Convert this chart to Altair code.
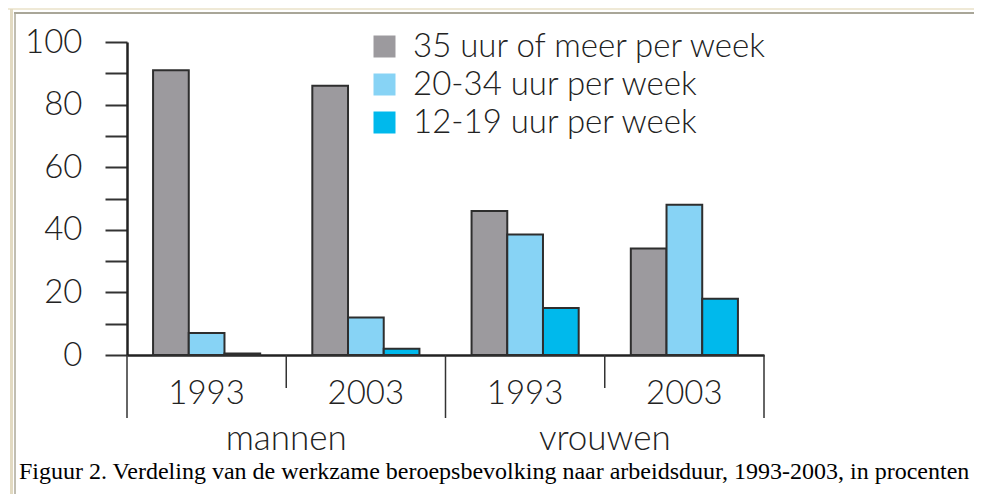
import altair as alt
import pandas as pd

groups = ["mannen 1993", "mannen 2003", "vrouwen 1993", "vrouwen 2003"]
categories = ["35 uur of meer per week", "20-34 uur per week", "12-19 uur per week"]
colors = ["#9c9a9e", "#87d3f5", "#00b9ec"]
v_35plus = [91, 86, 46, 34]
v_20_34 = [7, 12, 38.5, 48]
v_12_19 = [0.5, 2, 15, 18]
sexes = ["mannen", "vrouwen"]
caption = "Figuur 2. Verdeling van de werkzame beroepsbevolking naar arbeidsduur, 1993-2003, in procenten"

rows = []
for i, g in enumerate(groups):
    for c, vals in zip(categories, [v_35plus, v_20_34, v_12_19]):
        rows.append({"key": g, "cat": c, "value": vals[i]})
df = pd.DataFrame(rows)

FONT = "Lato"
INK = "#222222"

xsort = groups
xscale = alt.Scale(paddingInner=0, paddingOuter=0)
xaxis = alt.Axis(labelExpr="split(datum.label, ' ')[1]", ticks=False, tickSize=0,
                 labelFont=FONT, labelFontSize=33, labelColor=INK, labelFontWeight=300,
                 labelAngle=0, labelPadding=22, labelBaseline="top",
                 domainColor=INK, domainWidth=2.5, title=None)

bars = alt.Chart(df).mark_bar(stroke="#2e2e2e", strokeWidth=2).encode(
    x=alt.X("key:N", sort=xsort, scale=xscale, title=None, axis=xaxis),
    xOffset=alt.XOffset("cat:N", sort=categories,
                        scale=alt.Scale(paddingOuter=0.73, paddingInner=0)),
    y=alt.Y("value:Q", scale=alt.Scale(domain=[0, 100], nice=False), title=None,
            axis=alt.Axis(values=list(range(0, 101, 10)),
                          labelExpr="datum.value % 20 == 0 ? datum.label : ''",
                          tickSize=22, tickWidth=2, tickColor="#333333",
                          domainColor=INK, domainWidth=2.5,
                          labelFont=FONT, labelFontSize=33, labelColor=INK, labelFontWeight=300,
                          labelPadding=23, grid=False)),
    color=alt.Color("cat:N", sort=categories,
                    scale=alt.Scale(domain=categories, range=colors),
                    legend=alt.Legend(title=None, orient="none", legendX=241, legendY=-12,
                                      symbolType="square", symbolSize=484, symbolStrokeWidth=0,
                                      labelFont=FONT, labelFontSize=33, labelColor=INK,
                                      labelFontWeight=300, labelOffset=12, rowPadding=4,
                                      labelLimit=600)),
)

short_df = pd.DataFrame({"key": ["mannen 2003", "vrouwen 2003"]})
long_start_df = pd.DataFrame({"key": ["mannen 1993", "vrouwen 1993"]})
long_end_df = pd.DataFrame({"key": ["vrouwen 2003"]})

short_sep = alt.Chart(short_df).mark_rule(color="#333333", strokeWidth=1.5).encode(
    x=alt.X("key:N", sort=xsort, bandPosition=0, title=None, axis=xaxis),
    y=alt.value(313), y2=alt.value(346))
long_sep = alt.Chart(long_start_df).mark_rule(color="#333333", strokeWidth=1.5).encode(
    x=alt.X("key:N", sort=xsort, bandPosition=0, title=None, axis=xaxis),
    y=alt.value(313), y2=alt.value(376))
end_sep = alt.Chart(long_end_df).mark_rule(color="#333333", strokeWidth=1.5).encode(
    x=alt.X("key:N", sort=xsort, bandPosition=1, title=None, axis=xaxis),
    y=alt.value(313), y2=alt.value(376))

sex_df = pd.DataFrame({"key": ["mannen 1993", "vrouwen 1993"], "label": sexes})
sex_text = alt.Chart(sex_df).mark_text(font=FONT, fontSize=35, fontWeight=300, color=INK,
                                       baseline="alphabetic", align="center").encode(
    x=alt.X("key:N", sort=xsort, bandPosition=1, title=None, axis=xaxis),
    y=alt.value(408), text="label:N")

cap_text = alt.Chart(pd.DataFrame({"t": [caption]})).mark_text(
    font="Liberation Serif", fontSize=24, color="#000000", align="left",
    baseline="alphabetic").encode(x=alt.value(-108), y=alt.value(437), text="t:N")

# image frame lines (decoration)
frame_top_light = alt.Chart(pd.DataFrame({"a": [0]})).mark_rule(color="#efe9d6", strokeWidth=2).encode(
    x=alt.value(-119), x2=alt.value(855), y=alt.value(-33))
frame_top = alt.Chart(pd.DataFrame({"a": [0]})).mark_rule(color="#a9a698", strokeWidth=2).encode(
    x=alt.value(-113), x2=alt.value(855), y=alt.value(-29))
frame_left_light = alt.Chart(pd.DataFrame({"a": [0]})).mark_rule(color="#e2dac2", strokeWidth=3).encode(
    x=alt.value(-115.5), y=alt.value(-33), y2=alt.value(460))
frame_left = alt.Chart(pd.DataFrame({"a": [0]})).mark_rule(color="#aca898", strokeWidth=1.5).encode(
    x=alt.value(-112), y=alt.value(-29), y2=alt.value(460))

chart = alt.layer(
    frame_top_light, frame_top, frame_left_light, frame_left,
    bars, short_sep, long_sep, end_sep, sex_text, cap_text
).properties(
    width=637, height=313,
    autosize=alt.AutoSizeParams(type="none"),
    padding={"left": 119, "top": 34, "right": 210, "bottom": 139},
    background="white",
).configure_view(stroke=None)

chart.save("out.html", embed_options={"renderer": "svg", "actions": False})
